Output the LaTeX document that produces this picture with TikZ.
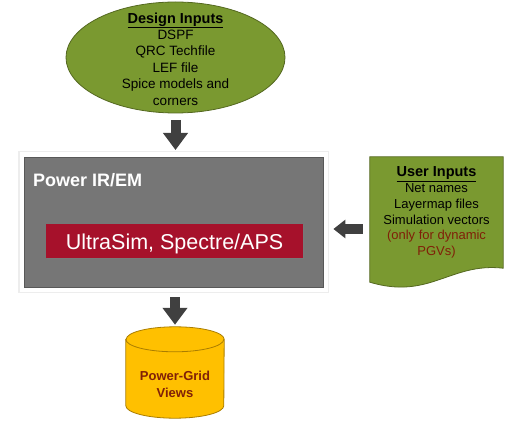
\documentclass[tikz,border=0pt]{standalone}
\usepackage{fontspec}
\setmainfont{Liberation Sans}
\usepackage{tikz}
\usetikzlibrary{shapes.geometric, arrows.meta, shadows, positioning}

\definecolor{inputgreen}{RGB}{122,153,48}
\definecolor{inputedge}{RGB}{84,104,32}
\definecolor{boxgray}{RGB}{118,118,118}
\definecolor{boxedge}{RGB}{88,88,88}
\definecolor{solverred}{RGB}{166,17,43}
\definecolor{viewgold}{RGB}{255,192,0}
\definecolor{viewedge}{RGB}{170,125,0}
\definecolor{notebrown}{RGB}{128,32,8}
\definecolor{arrowgray}{RGB}{64,64,64}

\tikzset{
  bigarrow/.style={line width=10pt, draw=arrowgray, -{Triangle[length=17pt,width=24pt]}},
  smallarrow/.style={line width=9pt, draw=arrowgray, -{Triangle[length=12pt,width=18pt]}},
  inputsellipse/.style={ellipse, fill=inputgreen, draw=inputedge, line width=0.8pt,
    minimum width=219pt, minimum height=111pt, inner sep=0pt},
  powerbox/.style={rectangle, fill=boxgray, draw=boxedge, line width=0.8pt,
    minimum width=299pt, minimum height=130pt, inner sep=0pt,
    preaction={draw=black!7, line width=12pt},
    preaction={draw=white, line width=9pt}},
  solverbox/.style={rectangle, fill=solverred, text=white, inner sep=0pt,
    minimum width=257pt, minimum height=34pt, text height=16pt, text depth=0pt,
    font=\fontsize{21.5}{21.5}\selectfont,
    drop shadow={opacity=0.35, shadow xshift=1.2pt, shadow yshift=-1.2pt}},
  dbline/.style={draw=viewedge, line width=0.8pt},
}

\begin{document}
\begin{tikzpicture}[x=1pt, y=-1pt]
\useasboundingbox (0,0) rectangle (518,427);

% design inputs
\node[inputsellipse] (design) at (175.5,57.5) {};
\node[align=center, font=\fontsize{13.5}{16.4}\selectfont] (designtext) at (175.5,59)
  {{\fontsize{14.5}{16.4}\selectfont\underline{\textbf{Design Inputs}}}\\DSPF\\QRC Techfile\\LEF file\\Spice models and\\corners};

% power IR/EM box
\node[powerbox] (power) at (173.5,222) {};
\node[anchor=base west, inner sep=0pt, text=white, font=\fontsize{18}{18}\selectfont\bfseries] (title) at (33,187) {Power IR/EM};
\node[solverbox] (solver) at (174.5,241) {UltraSim, Spectre/APS};

% user inputs
\node[minimum width=133pt, minimum height=125pt, inner sep=0pt] (user) at (436.5,219.5) {};
\draw[fill=inputgreen, draw=inputedge, line width=0.8pt]
  (user.north west) -- (user.north east) -- ([yshift=14pt]user.south east)
  .. controls +(-53pt,6pt) and +(60pt,-18pt) .. (user.south west) -- cycle;
\node[align=center, font=\fontsize{13}{15.8}\selectfont] (usertext) at ([yshift=7pt]user.center)
  {{\fontsize{14.5}{15.8}\selectfont\underline{\textbf{User Inputs}}}\\Net names\\Layermap files\\Simulation vectors\\
   \textcolor{notebrown}{(only for dynamic}\\\textcolor{notebrown}{PGVs)}};

% power-grid views (cylinder)
\node[minimum width=98pt, minimum height=66pt, inner sep=0pt] (views) at (175,372.5) {};
\draw[dbline, fill=viewgold] (views.north west) -- (views.south west)
  arc[start angle=180, end angle=360, x radius=49pt, y radius=12.5pt] -- (views.north east)
  arc[start angle=0, end angle=180, x radius=49pt, y radius=12.5pt] -- cycle;
\draw[dbline] (views.north west) arc[start angle=180, end angle=360, x radius=49pt, y radius=12.5pt];
\node[align=center, text=notebrown, font=\fontsize{13}{17}\selectfont\bfseries] (viewstext) at (175,384) {Power-Grid\\Views};

% arrows
\draw[bigarrow, shorten <=6.5pt, shorten >=6.6pt] (design.south) -- (design.south |- power.north);
\draw[bigarrow, shorten <=9.6pt, shorten >=14.5pt] (views.north |- power.south) -- (views.north);
\coordinate (uin) at ([yshift=-9.5pt]user.west);
\draw[smallarrow, shorten <=7pt, shorten >=10pt] (uin) -- (uin -| power.east);

\end{tikzpicture}
\end{document}
